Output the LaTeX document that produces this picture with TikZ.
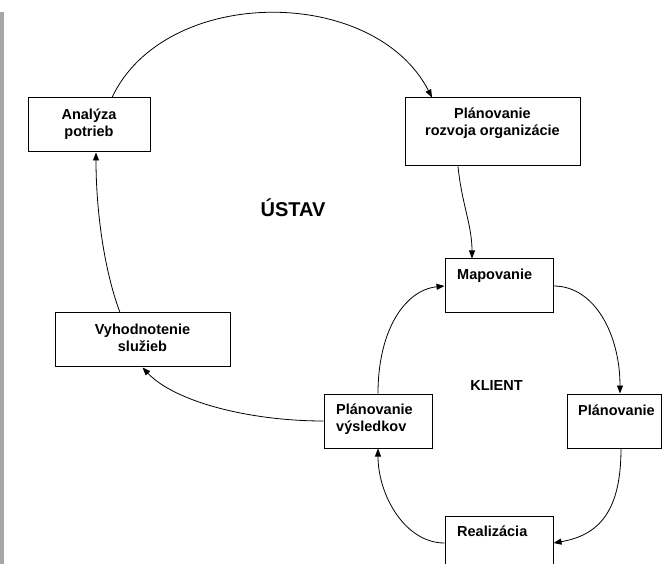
\documentclass[tikz,border=0pt]{standalone}
\usepackage{fontspec}
\setmainfont{Liberation Sans}
\usetikzlibrary{arrows.meta}
\begin{document}
\begin{tikzpicture}[x=1pt,y=-1pt,
  box/.style={draw,line width=1pt,inner sep=0pt,fill=white},
  txt/.style={font=\bfseries\fontsize{14.5}{16.7}\selectfont,inner sep=0pt,align=center},
  txtl/.style={font=\bfseries\fontsize{14.5}{16.7}\selectfont,inner sep=0pt,align=left},
  conn/.style={line width=0.8pt,-{Triangle[length=8pt,width=6pt]}}]
\useasboundingbox (0,0) rectangle (662,564);
\clip (0,0) rectangle (662,564);
\fill[white] (0,0) rectangle (662,564);
\fill[black!35] (0,12) rectangle (4,564);

% boxes
\node[box,minimum width=122pt,minimum height=54pt] (A)  at (89,125) {};
\node[box,minimum width=175pt,minimum height=68pt] (P1) at (492.5,132) {};
\node[box,minimum width=108pt,minimum height=54pt] (M)  at (499,286) {};
\node[box,minimum width=94pt,minimum height=54pt]  (P2) at (614,421) {};
\node[box,minimum width=108pt,minimum height=54pt] (PV) at (378,421) {};
\node[box,minimum width=108pt,minimum height=54pt] (R)  at (499,543) {};
\node[box,minimum width=175pt,minimum height=54pt] (V)  at (142.5,340) {};

% texts
\node[txt,anchor=north] (tA) at (89,108.8) {Analýza\\potrieb};
\node[txt,anchor=north] (tP1) at (492.5,107.8) {Plánovanie\\rozvoja organizácie};
\node[txtl,anchor=base west] (tM) at (457,280) {Mapovanie};
\node[txtl,anchor=base west] (tP2) at (578,415) {Plánovanie};
\node[txtl,anchor=north west] (tPV) at (336,403.8) {Plánovanie\\výsledkov};
\node[txtl,anchor=base west] (tR) at (457,536) {Realizácia};
\node[txt,anchor=north] (tV) at (142.5,323.6) {Vyhodnotenie\\služieb};

\node[font=\bfseries\fontsize{20}{24}\selectfont,inner sep=0pt,anchor=base] (ustav) at (293,217) {ÚSTAV};
\node[font=\bfseries\fontsize{14.5}{16.7}\selectfont,inner sep=0pt,anchor=base] (klient) at (496.5,391) {KLIENT};

% connectors
\draw[conn] ([xshift=23pt]A.north) .. controls (165,-15) and (374,-15) .. ([xshift=-60.5pt]P1.north);
\draw[conn] ([xshift=-34.5pt]P1.south) .. controls (462,205) and (472,225) .. ([xshift=-27pt]M.north);
\draw[conn] (M.east) .. controls (595,286) and (620,335) .. ([xshift=6pt]P2.north);
\draw[conn] ([xshift=7pt]P2.south) .. controls (621,510) and (600,535) .. (R.east);
\draw[conn] (R.west) .. controls (405,543) and (378,495) .. (PV.south);
\draw[conn] (PV.north) .. controls (378,330) and (405,290) .. (M.west);
\draw[conn] (PV.west) .. controls (250,421) and (175,402) .. (V.south);
\draw[conn] ([xshift=-22.5pt]V.north) .. controls (104,270) and (96,210) .. ([xshift=7pt]A.south);
\end{tikzpicture}
\end{document}
